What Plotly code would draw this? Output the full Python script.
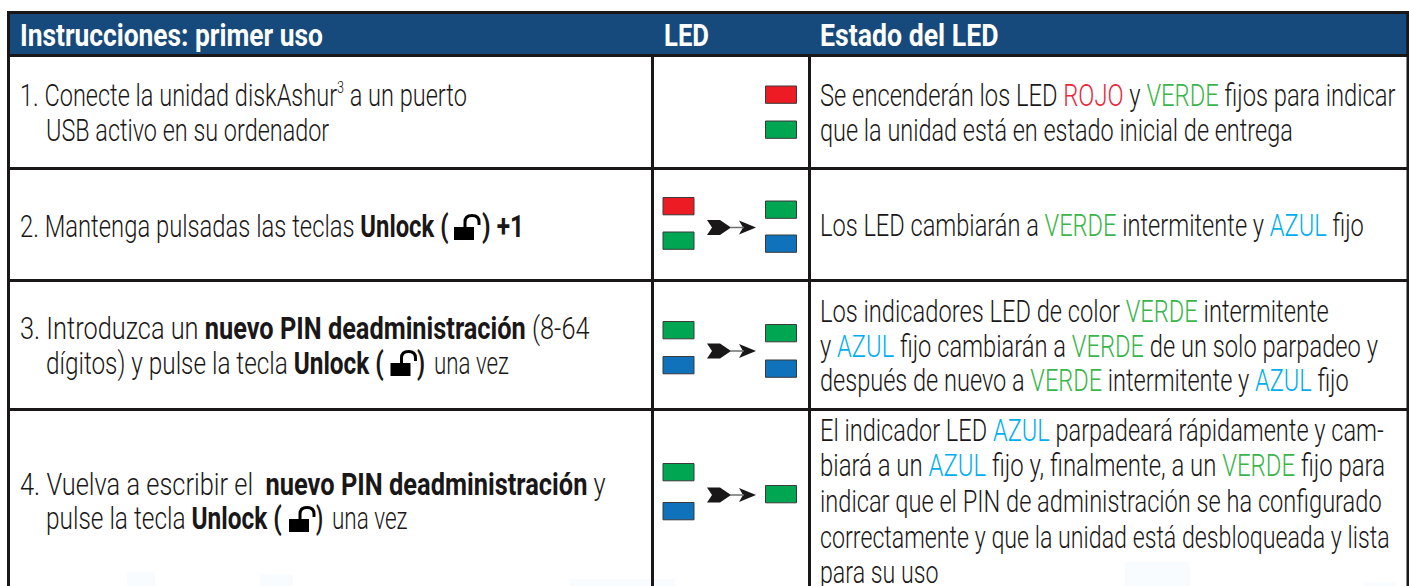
import json
import plotly.graph_objects as go

W, H = 1409, 586
FONT = "Roboto"
INK = "#1A1718"
NAVY = "#174A7C"
LED_COL = {"R": "#ED1C24", "G": "#00A651", "B": "#0F72BA"}
G = '<span style="color:#39B54A">VERDE</span>'
A = '<span style="color:#00AEEF">AZUL</span>'
R = '<span style="color:#E8293B">ROJO</span>'

header_texts = ["Instrucciones: primer uso", "LED", "Estado del LED"]
header_x = [20, 664, 820]
header_end = [323, 709, 998.6]

left_texts = [
    '1. Conecte la unidad diskAshur<sup><span style="font-size:17px">3</span></sup> a un puerto',
    "USB activo en su ordenador",
    "2. Mantenga pulsadas las teclas <b>Unlock (</b>",
    "<b>) +1</b>",
    "3. Introduzca un <b>nuevo PIN deadministración</b> (8-64",
    "dígitos) y pulse la tecla <b>Unlock (</b>",
    "<b>)</b>",
    "una vez",
    "4. Vuelva a escribir el  <b>nuevo PIN deadministración</b> y",
    "pulse la tecla <b>Unlock (</b>",
    "<b>)</b>",
    "una vez",
]
left_x = [20, 46, 20, 482, 20, 46, 417, 434, 20, 46, 316, 332]
left_end = [467, 329.5, 448.7, 524, 590, 384, 425, 509, 606, 282, 323, 407.6]
left_base = [105, 140, 236, 236, 338, 373, 373, 373, 494, 528, 528, 528]

right_texts = [
    f"Se encenderán los LED {R} y {G} fijos para indicar",
    "que la unidad está en estado inicial de entrega",
    f"Los LED cambiarán a {G} intermitente y {A} fijo",
    f"Los indicadores LED de color {G} intermitente",
    f"y {A} fijo cambiarán a {G} de un solo parpadeo y",
    f"después de nuevo a {G} intermitente y {A} fijo",
    f"El indicador LED {A} parpadeará rápidamente y cam-",
    f"biará a un {A} fijo y, finalmente, a un {G} fijo para",
    "indicar que el PIN de administración se ha configurado",
    "correctamente y que la unidad está desbloqueada y lista",
    "para su uso",
]
right_end = [1396, 1293, 1364, 1329, 1378, 1349, 1384, 1385, 1382, 1390, 938.5]
right_base = [105, 140, 235, 321, 356, 390, 440, 475, 511, 547, 582]

# LED lamps: colour, left edge, top edge
led_colors = ["R", "G", "R", "G", "G", "B", "G", "B", "G", "B", "G", "B", "G"]
led_left = [765.5, 765.5, 663, 663, 765.5, 765.5, 663, 663, 765.5, 765.5, 663, 663, 765.5]
led_top = [86, 121, 197.5, 232, 201, 235, 321.5, 356.5, 324.5, 360, 463.5, 502.5, 485.5]
arrow_y = [227.5, 351, 495]
lock_pos = [(454, 227), (390.5, 363), (289, 519)]
# faint bleed-through patches at the bottom edge of the page
ghost_boxes = [(127, 572, 155, 586), (260, 574, 293, 586), (570, 579, 675, 586),
               (1125, 562, 1190, 586), (1365, 582, 1395, 586)]

shapes = []
def rect(x0, y0, x1, y1, color):
    shapes.append(dict(type="rect", x0=x0, y0=y0, x1=x1, y1=y1, fillcolor=color,
                       line=dict(width=0), layer="below"))

for box in ghost_boxes:
    rect(*box, "#F8FCFE")
rect(7, 11, 1409, 57, INK)
rect(10, 14, 1406.5, 54, NAVY)
for y0, y1 in [(167, 170), (279, 282), (408, 411)]:
    rect(7, y0, 1409, y1, INK)
for x0, x1 in [(7, 10), (651, 654), (808, 811), (1406.5, 1409)]:
    rect(x0, 54 if 10 < x0 < 1400 else 11, x1, H, INK)

# arrows
for y in arrow_y:
    x = 707
    shapes.append(dict(type="path", fillcolor=INK, line=dict(width=0),
        path=f"M{x},{y-7.5} L{x+13},{y-7.5} L{x+24},{y} L{x+13},{y+7.5} L{x},{y+7.5} L{x+5},{y} Z"))
    shapes.append(dict(type="path", fillcolor=INK, line=dict(width=0),
        path=f"M{x+32},{y-7} L{x+49},{y} L{x+32},{y+7} L{x+36},{y} Z"))
    shapes.append(dict(type="line", x0=x+23, x1=x+37, y0=y, y1=y, line=dict(color="#6D6E71", width=1.5)))

# padlocks
for x, y in lock_pos:
    shapes.append(dict(type="rect", x0=x, y0=y, x1=x+20, y1=y+13, fillcolor="#000",
                       line=dict(width=0)))
    shapes.append(dict(type="path", line=dict(color="#000", width=3),
        path=f"M{x+11},{y} L{x+11},{y-5} Q{x+11},{y-11.5} {x+18},{y-11.5} Q{x+25},{y-11.5} {x+25},{y-5} L{x+25},{y-2}"))

fig = go.Figure()
fig.add_trace(go.Bar(
    x=[l + 15.5 for l in led_left], y=[17.3] * len(led_left), base=led_top, width=[31] * len(led_left),
    marker=dict(color=[LED_COL[c] for c in led_colors], line=dict(color="#3a3a3a", width=1)),
    hoverinfo="skip", showlegend=False))

SIZE = 32
def note(x, base, text, size=SIZE, color=INK, weight=300):
    return dict(x=x, y=base - 0.32 * size, xref="x", yref="y", text=text, showarrow=False,
                xanchor="left", yanchor="middle", align="left",
                font=dict(family=FONT, size=size, color=color, weight=weight), borderpad=0, borderwidth=0)

ann, ends = [], []
for t, x, e in zip(header_texts, header_x, header_end):
    ann.append(note(x, 45.5, f"<b>{t}</b>", size=32, color="#FFFFFF", weight=700))
    ends.append(e)
for t, x, b, e in zip(left_texts, left_x, left_base, left_end):
    ann.append(note(x, b, t))
    ends.append(e)
for t, b, e in zip(right_texts, right_base, right_end):
    ann.append(note(820, b, t))
    ends.append(e)

fig.update_layout(
    width=W, height=H, margin=dict(l=0, r=0, t=0, b=0), autosize=False,
    paper_bgcolor="#FFFFFF", plot_bgcolor="#FFFFFF", showlegend=False,
    xaxis=dict(range=[0, W], visible=False, fixedrange=True),
    yaxis=dict(range=[H, 0], visible=False, fixedrange=True),
    shapes=shapes, annotations=ann,
)

# The reference is set in a condensed face: squeeze each line horizontally to its measured end.
post = """
document.body.style.margin='0';document.body.style.overflow='hidden';
var ends=%s;
function squeeze(){
  var gd=document.querySelector('.js-plotly-plot');
  var ts=gd.querySelectorAll('.annotation-text');
  var xs=gd._fullLayout.annotations;
  ts.forEach(function(t,i){
    t.removeAttribute('transform');
    var b=t.getBBox();
    var x0=b.x, sx=(ends[i]-xs[i].x)/b.width;
    t.setAttribute('transform','translate('+x0+',0) scale('+sx+',1) translate('+(-x0)+',0)');
  });
}
squeeze();
if(document.fonts&&document.fonts.ready){document.fonts.ready.then(squeeze);}
""" % json.dumps(ends)
fig.write_html("out.html", config=dict(displayModeBar=False), post_script=post)
